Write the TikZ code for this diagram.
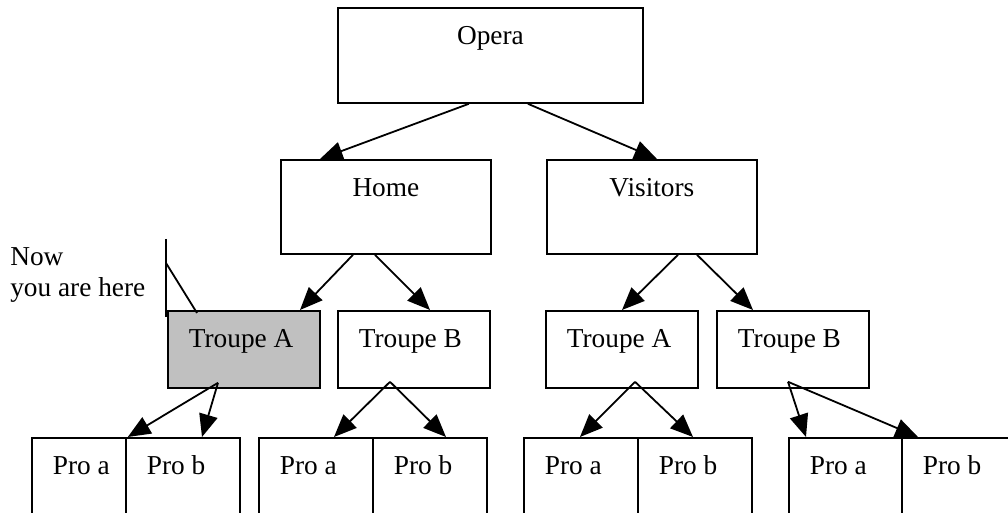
\documentclass[tikz,border=0pt]{standalone}
\usepackage{fontspec}
\setmainfont{Liberation Serif}
\usetikzlibrary{arrows.meta,calc}
\definecolor{boxgray}{RGB}{192,192,192}
\newcommand{\lbox}[2]{\makebox[\dimexpr#1-31.5pt\relax][l]{#2}}
\begin{document}
\begin{tikzpicture}[x=0.75pt,y=-0.75pt,
  lw/.style={line width=1.35pt},
  boxbase/.style={draw, lw, inner ysep=0pt, anchor=north west, text height=27.75pt,
     font=\fontsize{20.5}{24.6}\selectfont},
  cbox/.style={boxbase, inner xsep=0pt},
  lbx/.style={boxbase, inner xsep=15.75pt},
  topbox/.style={cbox, minimum width=228.75pt, text depth=43.5pt},
  midbox/.style={cbox, minimum width=157.5pt, text depth=42.75pt},
  troupe/.style={lbx, minimum width=114pt, text depth=30pt},
  pro/.style={lbx, text depth=47.25pt},
  arr/.style={lw, -{Triangle[length=17pt,width=14pt]}},
]
\useasboundingbox (0,0) rectangle (1008,513);
\clip (0,0) rectangle (1008,513);

% level 0-1
\node[topbox] (opera) at (337,7) {Opera};
\node[midbox] (home) at (280,159) {Home};
\node[midbox] (visitors) at (546,159) {Visitors};

% level 2
\node[troupe, fill=boxgray] (ta1) at (167,310) {\lbox{114pt}{Troupe A}};
\node[troupe] (tb1) at (337,310) {\lbox{114pt}{Troupe B}};
\node[troupe] (ta2) at (545,310) {\lbox{114pt}{Troupe A}};
\node[troupe] (tb2) at (716,310) {\lbox{114pt}{Troupe B}};

% level 3
\node[pro, minimum width=70.5pt] (p1a) at (31,437) {\lbox{70.5pt}{Pro a}};
\node[pro, minimum width=85.5pt] (p1b) at (125,437) {\lbox{85.5pt}{Pro b}};
\node[pro, minimum width=85.5pt] (p2a) at (258,437) {\lbox{85.5pt}{Pro a}};
\node[pro, minimum width=85.5pt] (p2b) at (372,437) {\lbox{85.5pt}{Pro b}};
\node[pro, minimum width=85.5pt] (p3a) at (523,437) {\lbox{85.5pt}{Pro a}};
\node[pro, minimum width=85.5pt] (p3b) at (637,437) {\lbox{85.5pt}{Pro b}};
\node[pro, minimum width=84.75pt] (p4a) at (788,437) {\lbox{84.75pt}{Pro a}};
\node[pro, minimum width=85.5pt] (p4b) at (901,437) {\lbox{85.5pt}{Pro b}};

% callout
\node[anchor=base west, align=left, inner sep=0pt,
      font=\fontsize{20.5}{23.25}\selectfont] (note) at (10,297) {Now\\you are here};
\coordinate (ctop) at ($(ta1.north west)+(-1,-71)$);
\coordinate (cbot) at ($(ta1.north west)+(-1,7)$);
\coordinate (cmid) at ($(ta1.north west)+(-1,-47)$);
\coordinate (cend) at ($(ta1.north west)+(30,3)$);
\draw[lw] (ctop) -- (cbot);
\draw[lw] (cmid) -- (cend);

% connectors
\draw[arr] ($(opera.south)+(-21.5,0)$) -- ($(home.north west)+(40,0)$);
\draw[arr] ($(opera.south)+(37.5,0)$) -- ($(visitors.north west)+(111,0)$);
\draw[arr] ($(home.south west)+(73,0)$) -- ($(ta1.north west)+(133,0)$);
\draw[arr] ($(home.south west)+(95,0)$) -- ($(tb1.north west)+(93,0)$);
\draw[arr] ($(visitors.south west)+(132,0)$) -- ($(ta2.north west)+(77,0)$);
\draw[arr] ($(visitors.south west)+(151,0)$) -- ($(tb2.north west)+(37,0)$);

\draw[arr] ($(ta1.south west)+(51,-6)$) -- ($(p1a.north east)+(1,0)$);
\draw[arr] ($(ta1.south west)+(51,-6)$) -- ($(p1b.north west)+(77,0)$);
\draw[arr] ($(tb1.south west)+(53,-7)$) -- ($(p2a.north west)+(76,0)$);
\draw[arr] ($(tb1.south west)+(53,-7)$) -- ($(p2b.north west)+(74,0)$);
\draw[arr] ($(ta2.south west)+(90,-7)$) -- ($(p3a.north west)+(57,0)$);
\draw[arr] ($(ta2.south west)+(90,-7)$) -- ($(p3b.north west)+(56,0)$);
\draw[arr] ($(tb2.south west)+(72,-7)$) -- ($(p4a.north west)+(18,0)$);
\draw[arr] ($(tb2.south west)+(72,-7)$) -- ($(p4b.north west)+(17,0)$);
\end{tikzpicture}
\end{document}
